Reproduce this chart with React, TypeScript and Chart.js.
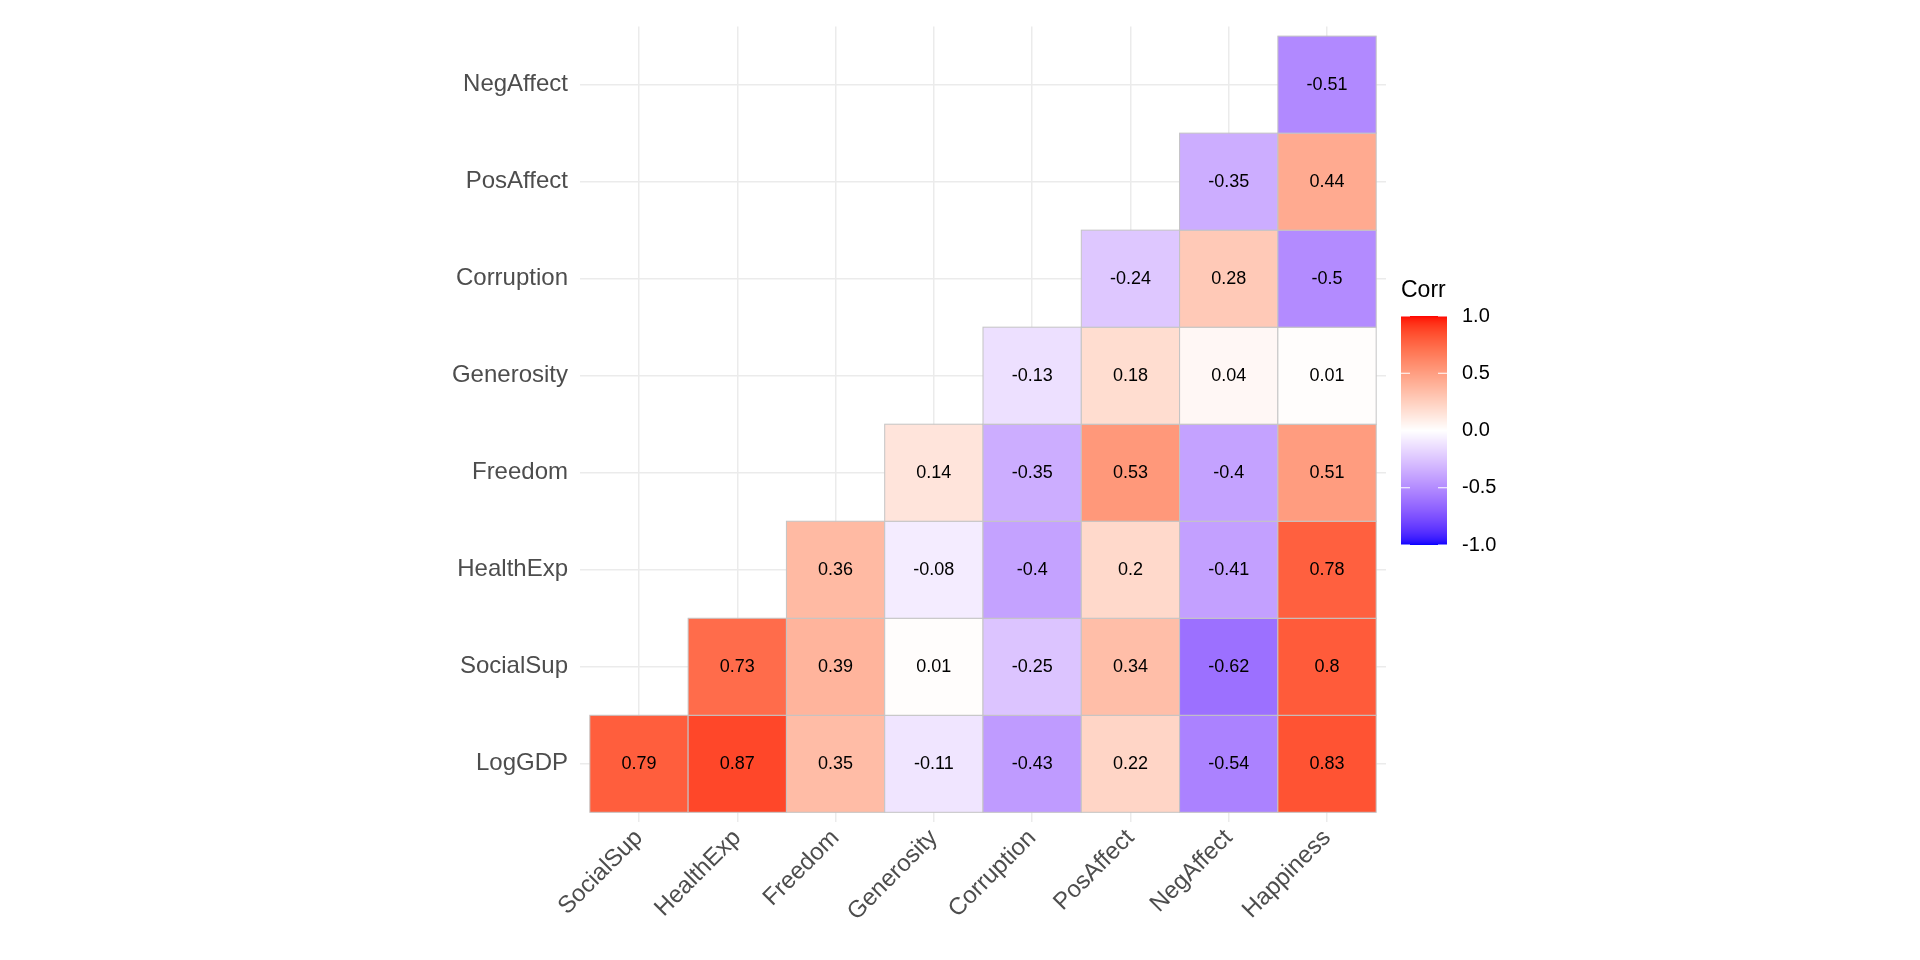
import React, { useEffect, useRef } from "react";
import { Chart, registerables } from "chart.js";
Chart.register(...registerables);

const rowLabels = ["LogGDP", "SocialSup", "HealthExp", "Freedom", "Generosity", "Corruption", "PosAffect", "NegAffect"];
const colLabels = ["SocialSup", "HealthExp", "Freedom", "Generosity", "Corruption", "PosAffect", "NegAffect", "Happiness"];
// values per row, starting at column index = row index
const rowLogGDP = [0.79, 0.87, 0.35, -0.11, -0.43, 0.22, -0.54, 0.83];
const rowSocialSup = [0.73, 0.39, 0.01, -0.25, 0.34, -0.62, 0.8];
const rowHealthExp = [0.36, -0.08, -0.4, 0.2, -0.41, 0.78];
const rowFreedom = [0.14, -0.35, 0.53, -0.4, 0.51];
const rowGenerosity = [-0.13, 0.18, 0.04, 0.01];
const rowCorruption = [-0.24, 0.28, -0.5];
const rowPosAffect = [-0.35, 0.44];
const rowNegAffect = [-0.51];
const rows = [rowLogGDP, rowSocialSup, rowHealthExp, rowFreedom, rowGenerosity, rowCorruption, rowPosAffect, rowNegAffect];
const legendTicks = [1, 0.5, 0, -0.5, -1];

function labToRgb(L: number, a: number, b: number) {
  let y = (L + 16) / 116, x = a / 500 + y, z = y - b / 200;
  const f = (t: number) => (t ** 3 > 0.008856 ? t ** 3 : (t - 16 / 116) / 7.787);
  x = 0.95047 * f(x); y = f(y); z = 1.08883 * f(z);
  let r = x * 3.2406 + y * -1.5372 + z * -0.4986;
  let g = x * -0.9689 + y * 1.8758 + z * 0.0415;
  let bb = x * 0.0557 + y * -0.204 + z * 1.057;
  const gc = (c: number) => Math.round(255 * Math.max(0, Math.min(1, c > 0.0031308 ? 1.055 * c ** (1 / 2.4) - 0.055 : 12.92 * c)));
  return `rgb(${gc(r)},${gc(g)},${gc(bb)})`;
}
function colorFor(v: number) {
  const t = Math.min(1, Math.abs(v));
  const end = v >= 0 ? [53.24, 80.09, 67.2] : [32.3, 79.19, -107.86];
  return labToRgb(100 + (end[0] - 100) * t, end[1] * t, end[2] * t);
}

const points: { x: number; y: number; v: number }[] = [];
rows.forEach((r, ri) => r.forEach((v, k) => points.push({ x: ri + k, y: ri, v })));

const FONT = "'Liberation Sans', Arial, sans-serif";

const cellPlugin = {
  id: "cells",
  beforeDatasetsDraw(chart: any) {
    const { ctx } = chart;
    const xs = chart.scales.x, ys = chart.scales.y;
    const w = Math.abs(xs.getPixelForValue(1) - xs.getPixelForValue(0));
    const h = Math.abs(ys.getPixelForValue(1) - ys.getPixelForValue(0));
    ctx.save();
    points.forEach((p) => {
      const cx = xs.getPixelForValue(p.x), cy = ys.getPixelForValue(p.y);
      ctx.fillStyle = colorFor(p.v);
      ctx.fillRect(cx - w / 2, cy - h / 2, w, h);
      ctx.strokeStyle = "#C4C4C4";
      ctx.lineWidth = 1;
      ctx.strokeRect(cx - w / 2, cy - h / 2, w, h);
    });
    ctx.fillStyle = "#000";
    ctx.font = `18px ${FONT}`;
    ctx.textAlign = "center";
    ctx.textBaseline = "middle";
    points.forEach((p) => {
      ctx.fillText(String(p.v), xs.getPixelForValue(p.x), ys.getPixelForValue(p.y));
    });
    // legend
    const lx = 1401, lw = 46, top = 316, bot = 545;
    ctx.textAlign = "left";
    ctx.textBaseline = "alphabetic";
    ctx.font = `23px ${FONT}`;
    ctx.fillText("Corr", 1401, 297);
    for (let yy = top; yy < bot; yy++) {
      const v = 1 - (2 * (yy - top + 0.5)) / (bot - top);
      ctx.fillStyle = colorFor(v);
      ctx.fillRect(lx, yy, lw, 1);
    }
    ctx.font = `20px ${FONT}`;
    ctx.textBaseline = "middle";
    legendTicks.forEach((t) => {
      const yy = top + ((1 - t) / 2) * (bot - top);
      ctx.strokeStyle = "#fff";
      ctx.beginPath();
      ctx.moveTo(lx, yy); ctx.lineTo(lx + 9, yy);
      ctx.moveTo(lx + lw - 9, yy); ctx.lineTo(lx + lw, yy);
      ctx.stroke();
      ctx.fillStyle = "#000";
      ctx.fillText(t.toFixed(1), 1462, yy);
    });
    ctx.restore();
  },
};

export default function App() {
  const ref = useRef<HTMLCanvasElement>(null);
  useEffect(() => {
    document.body.style.margin = "0";
    const chart = new Chart(ref.current!, {
      type: "scatter",
      data: { datasets: [{ data: points, pointRadius: 0, pointHoverRadius: 0 }] },
      options: {
        animation: false,
        responsive: false,
        events: [],
        layout: { padding: { left: 0, right: 534, top: 13, bottom: 0 } },
        plugins: { legend: { display: false }, tooltip: { enabled: false } },
        scales: {
          x: {
            type: "linear", min: -0.6, max: 7.6,
            afterFit: (s: any) => { s.height = 138; },
            afterBuildTicks: (s: any) => { s.ticks = colLabels.map((_, i) => ({ value: i })); },
            ticks: {
              callback: (v: any) => colLabels[v] ?? "",
              maxRotation: 45, minRotation: 45, color: "#4D4D4D",
              font: { size: 24, family: FONT }, padding: 2,
            },
            grid: { color: "#EBEBEB", lineWidth: 1.5, drawTicks: false },
            border: { display: false },
          },
          y: {
            type: "linear", min: -0.6, max: 7.6,
            afterFit: (s: any) => { s.width = 580; },
            afterBuildTicks: (s: any) => { s.ticks = rowLabels.map((_, i) => ({ value: i })); },
            ticks: {
              callback: (v: any) => rowLabels[v] ?? "",
              color: "#4D4D4D", font: { size: 24, family: FONT }, padding: 12,
            },
            grid: { color: "#EBEBEB", lineWidth: 1.5, drawTicks: false },
            border: { display: false },
          },
        },
      },
      plugins: [cellPlugin],
    } as any);
    return () => chart.destroy();
  }, []);
  return <canvas ref={ref} width={1920} height={960} style={{ display: "block" }} />;
}
